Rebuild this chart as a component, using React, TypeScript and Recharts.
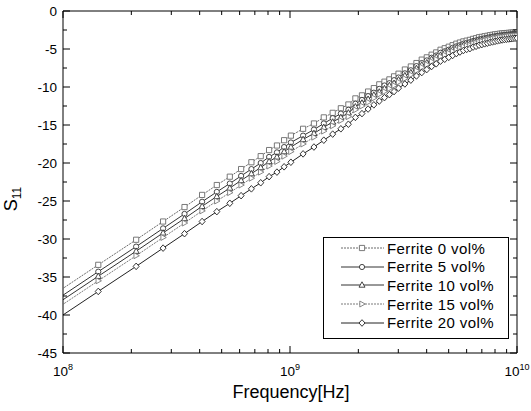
import React from 'react';
import { LineChart, Line, XAxis, YAxis } from 'recharts';

// Frequency in GHz
const freqs = [
  0.0766, 0.143, 0.21, 0.276, 0.343, 0.41, 0.476, 0.543, 0.609, 0.676, 0.743, 0.809, 0.876, 0.942, 1.009,
  1.142, 1.275, 1.409, 1.542, 1.675, 1.808, 1.941, 2.075, 2.208, 2.341, 2.474, 2.607, 2.741, 2.874, 3.007,
  3.207, 3.407, 3.606, 3.806, 4.006, 4.206, 4.406, 4.605, 4.805, 5.005, 5.205, 5.405, 5.604, 5.804, 6.004,
  6.204, 6.404, 6.603, 6.803, 7.003, 7.203, 7.403, 7.602, 7.802, 8.002, 8.202, 8.402, 8.601, 8.801, 9.001,
  9.201, 9.401, 9.6, 9.8, 10.0,
];

const ferrite0 = [
  -38.8, -33.4, -30.1, -27.7, -25.8, -24.2, -22.9, -21.8, -20.8, -19.9, -19.1, -18.3, -17.7, -17.0, -16.4,
  -15.5, -14.8, -14.0, -13.4, -12.8, -12.3, -11.5, -11.1, -10.6, -10.15, -9.65, -9.3, -9.0, -8.6, -8.25,
  -7.7, -7.3, -6.85, -6.4, -6.1, -5.75, -5.45, -5.1, -4.9, -4.7, -4.5, -4.3, -4.15, -4.0, -3.9,
  -3.8, -3.67, -3.58, -3.45, -3.4, -3.32, -3.26, -3.18, -3.13, -3.07, -3.03, -2.98, -2.95, -2.92, -2.9,
  -2.87, -2.85, -2.83, -2.8, -2.78,
];
const ferrite5 = [
  -39.7, -34.3, -31.0, -28.6, -26.7, -25.1, -23.8, -22.7, -21.7, -20.8, -20.0, -19.2, -18.6, -17.9, -17.3,
  -16.4, -15.6, -14.8, -14.1, -13.5, -13.0, -12.2, -11.7, -11.2, -10.75, -10.25, -9.8, -9.5, -9.1, -8.75,
  -8.2, -7.8, -7.25, -6.85, -6.5, -6.15, -5.85, -5.5, -5.3, -5.1, -4.85, -4.65, -4.5, -4.3, -4.2,
  -4.1, -3.95, -3.87, -3.75, -3.67, -3.58, -3.52, -3.44, -3.38, -3.32, -3.27, -3.22, -3.18, -3.15, -3.12,
  -3.09, -3.06, -3.04, -3.01, -2.99,
];
const ferrite10 = [
  -40.3, -34.9, -31.6, -29.2, -27.3, -25.7, -24.4, -23.3, -22.3, -21.4, -20.6, -19.8, -19.2, -18.5, -17.9,
  -16.9, -16.1, -15.3, -14.6, -14.0, -13.4, -12.6, -12.1, -11.6, -11.05, -10.65, -10.2, -9.8, -9.5, -9.05,
  -8.5, -8.1, -7.55, -7.1, -6.8, -6.35, -6.05, -5.8, -5.5, -5.3, -5.1, -4.85, -4.7, -4.5, -4.4,
  -4.3, -4.12, -4.03, -3.9, -3.82, -3.73, -3.66, -3.58, -3.52, -3.45, -3.4, -3.35, -3.31, -3.27, -3.24,
  -3.21, -3.18, -3.15, -3.13, -3.1,
];
const ferrite15 = [
  -40.9, -35.5, -32.2, -29.8, -27.9, -26.3, -25.0, -23.9, -22.9, -22.0, -21.2, -20.4, -19.8, -19.1, -18.5,
  -17.5, -16.6, -15.8, -15.1, -14.4, -13.9, -13.0, -12.5, -12.0, -11.45, -10.95, -10.6, -10.2, -9.8, -9.35,
  -8.9, -8.4, -7.85, -7.4, -7.05, -6.65, -6.35, -6.0, -5.8, -5.55, -5.3, -5.1, -4.9, -4.7, -4.6,
  -4.5, -4.3, -4.22, -4.08, -4.0, -3.9, -3.83, -3.75, -3.68, -3.62, -3.56, -3.5, -3.46, -3.42, -3.38,
  -3.35, -3.32, -3.29, -3.27, -3.25,
];
const ferrite20 = [
  -42.3, -36.9, -33.6, -31.2, -29.3, -27.7, -26.4, -25.3, -24.3, -23.4, -22.6, -21.8, -21.2, -20.5, -19.9,
  -18.8, -17.9, -17.0, -16.2, -15.5, -14.9, -14.0, -13.5, -12.9, -12.35, -11.85, -11.4, -11.0, -10.6, -10.15,
  -9.6, -9.1, -8.55, -8.1, -7.7, -7.3, -6.95, -6.6, -6.35, -6.1, -5.85, -5.6, -5.4, -5.2, -5.05,
  -4.95, -4.75, -4.65, -4.5, -4.42, -4.32, -4.24, -4.14, -4.07, -4.0, -3.93, -3.86, -3.81, -3.76, -3.72,
  -3.68, -3.65, -3.62, -3.59, -3.57,
];

const xTicks = [0.1, 0.2, 0.3, 0.4, 0.5, 0.6, 0.7, 0.8, 0.9, 1, 2, 3, 4, 5, 6, 7, 8, 9, 10];
const yTicks = [-45, -42.5, -40, -37.5, -35, -32.5, -30, -27.5, -25, -22.5, -20, -17.5, -15, -12.5, -10, -7.5, -5, -2.5, 0];
const seriesNames = ['Ferrite 0 vol%', 'Ferrite 5 vol%', 'Ferrite 10 vol%', 'Ferrite 15 vol%', 'Ferrite 20 vol%'];
const seriesKeys = ['s0', 's5', 's10', 's15', 's20'];
const seriesShapes = ['square', 'circle', 'triUp', 'triRight', 'diamond'];

const data = freqs.map((f, i) => ({
  f,
  s0: ferrite0[i],
  s5: ferrite5[i],
  s10: ferrite10[i],
  s15: ferrite15[i],
  s20: ferrite20[i],
}));

const FONT = '"Liberation Sans", Arial, Helvetica, sans-serif';
const strokes = ['#6a6a6a', '#333', '#333', '#7a7a7a', '#222'];
const dashes = ['2 1', undefined, undefined, '2 1', undefined];

function markerPath(shape: string, cx: number, cy: number): string {
  const s = 2.6;
  switch (shape) {
    case 'square':
      return `M${cx - s},${cy - s}h${2 * s}v${2 * s}h${-2 * s}Z`;
    case 'triUp':
      return `M${cx},${cy - 3.2}L${cx + 3},${cy + 2.2}L${cx - 3},${cy + 2.2}Z`;
    case 'triRight':
      return `M${cx + 3.2},${cy}L${cx - 2.2},${cy + 3}L${cx - 2.2},${cy - 3}Z`;
    case 'diamond':
      return `M${cx},${cy - 3.3}L${cx + 3},${cy}L${cx},${cy + 3.3}L${cx - 3},${cy}Z`;
    default:
      return `M${cx - s},${cy}a${s},${s} 0 1,0 ${2 * s},0a${s},${s} 0 1,0 ${-2 * s},0Z`;
  }
}

const makeDot = (shape: string, color: string) => (props: any) => {
  const { cx, cy, index } = props;
  if (cx == null || cy == null) return <g key={`d-${index}`} />;
  return (
    <path key={`d-${shape}-${index}`} d={markerPath(shape, cx, cy)} fill="#fff" stroke={color} strokeWidth={0.9} />
  );
};

const isMajorX = (v: number) => Math.abs(Math.log10(v) - Math.round(Math.log10(v))) < 1e-6;
const isMajorY = (v: number) => Math.abs(v / 5 - Math.round(v / 5)) < 1e-6;

const XTick = (props: any) => {
  const { x, y, payload, side } = props;
  const v = payload.value;
  const major = isMajorX(v);
  const len = major ? 7 : 4;
  const dir = side === 'bottom' ? -1 : 1;
  const exp = Math.round(Math.log10(v)) + 9;
  return (
    <g>
      <line x1={x} y1={y} x2={x} y2={y + dir * len} stroke="#000" strokeWidth={1} />
      {side === 'bottom' && major ? (
        <text x={x} y={y + 23} textAnchor="middle" fontSize={13.5} fontFamily={FONT} fill="#000">
          <tspan>10</tspan>
          <tspan dy={-6} fontSize={9}>{exp}</tspan>
        </text>
      ) : null}
    </g>
  );
};

const YTick = (props: any) => {
  const { x, y, payload, side } = props;
  const v = payload.value;
  const major = isMajorY(v);
  const len = major ? 7 : 4;
  const dir = side === 'left' ? 1 : -1;
  return (
    <g>
      <line x1={x} y1={y} x2={x + dir * len} y2={y} stroke="#000" strokeWidth={1} />
      {side === 'left' && major ? (
        <text x={x - 6} y={y + 4.7} textAnchor="end" fontSize={13.5} fontFamily={FONT} fill="#000">
          {String(v)}
        </text>
      ) : null}
    </g>
  );
};

const LegendBox = () => (
  <div
    style={{
      position: 'absolute',
      left: 323,
      top: 237,
      width: 186,
      height: 102,
      border: '1px solid #000',
      background: '#fff',
      boxSizing: 'border-box',
      fontFamily: FONT,
    }}
  >
    {seriesNames.map((name, i) => (
      <div
        key={name}
        style={{ position: 'absolute', left: 0, top: 1 + i * 18.7, height: 18, width: 184, display: 'flex', alignItems: 'center' }}
      >
        <svg width={47} height={18} style={{ marginLeft: 16 }}>
          <line x1={1} y1={9} x2={44} y2={9} stroke={strokes[i]} strokeWidth={1} strokeDasharray={dashes[i]} />
          <path d={markerPath(seriesShapes[i], 22, 9)} fill="#fff" stroke={strokes[i]} strokeWidth={0.9} />
        </svg>
        <span style={{ fontSize: 15, letterSpacing: 0.4, color: '#000', whiteSpace: 'nowrap' }}>{name}</span>
      </div>
    ))}
  </div>
);

export default function App() {
  return (
    <div style={{ position: 'absolute', left: 0, top: 0, width: 531, height: 411, background: '#fff' }}>
      <LineChart width={531} height={411} data={data} margin={{ top: 1, right: 4, bottom: 28, left: 23 }}>
        <XAxis
          xAxisId="b"
          dataKey="f"
          type="number"
          scale="log"
          domain={[0.1, 10]}
          allowDataOverflow
          ticks={xTicks}
          interval={0}
          height={30}
          tickSize={0}
          tickMargin={0}
          tickLine={false}
          axisLine={{ stroke: '#000', strokeWidth: 1 }}
          tick={<XTick side="bottom" />}
        />
        <XAxis
          xAxisId="t"
          orientation="top"
          dataKey="f"
          type="number"
          scale="log"
          domain={[0.1, 10]}
          allowDataOverflow
          ticks={xTicks}
          interval={0}
          height={10}
          tickSize={0}
          tickMargin={0}
          tickLine={false}
          axisLine={{ stroke: '#000', strokeWidth: 1 }}
          tick={<XTick side="top" />}
        />
        <YAxis
          yAxisId="l"
          type="number"
          domain={[-45, 0]}
          allowDataOverflow
          ticks={yTicks}
          interval={0}
          width={40}
          tickSize={0}
          tickMargin={0}
          tickLine={false}
          axisLine={{ stroke: '#000', strokeWidth: 1 }}
          tick={<YTick side="left" />}
        />
        <YAxis
          yAxisId="r"
          orientation="right"
          type="number"
          domain={[-45, 0]}
          allowDataOverflow
          ticks={yTicks}
          interval={0}
          width={10}
          tickSize={0}
          tickMargin={0}
          tickLine={false}
          axisLine={{ stroke: '#000', strokeWidth: 1 }}
          tick={<YTick side="right" />}
        />
        {seriesKeys.map((k, i) => (
          <Line
            key={k}
            xAxisId="b"
            yAxisId="l"
            type="linear"
            dataKey={k}
            name={seriesNames[i]}
            stroke={strokes[i]}
            strokeWidth={1}
            strokeDasharray={dashes[i]}
            dot={makeDot(seriesShapes[i], strokes[i])}
            activeDot={false}
            isAnimationActive={false}
          />
        ))}
      </LineChart>
      <svg width={531} height={411} style={{ position: 'absolute', left: 0, top: 0, pointerEvents: 'none' }}>
        <text x={291} y={398} textAnchor="middle" fontSize={18} fontFamily={FONT} fill="#000">
          Frequency[Hz]
        </text>
        <text transform="rotate(-90, 17, 199)" x={17} y={199} textAnchor="middle" fontFamily={FONT} fill="#000">
          <tspan fontSize={18}>S</tspan>
          <tspan fontSize={12} dy={4}>11</tspan>
        </text>
      </svg>
      <LegendBox />
    </div>
  );
}
